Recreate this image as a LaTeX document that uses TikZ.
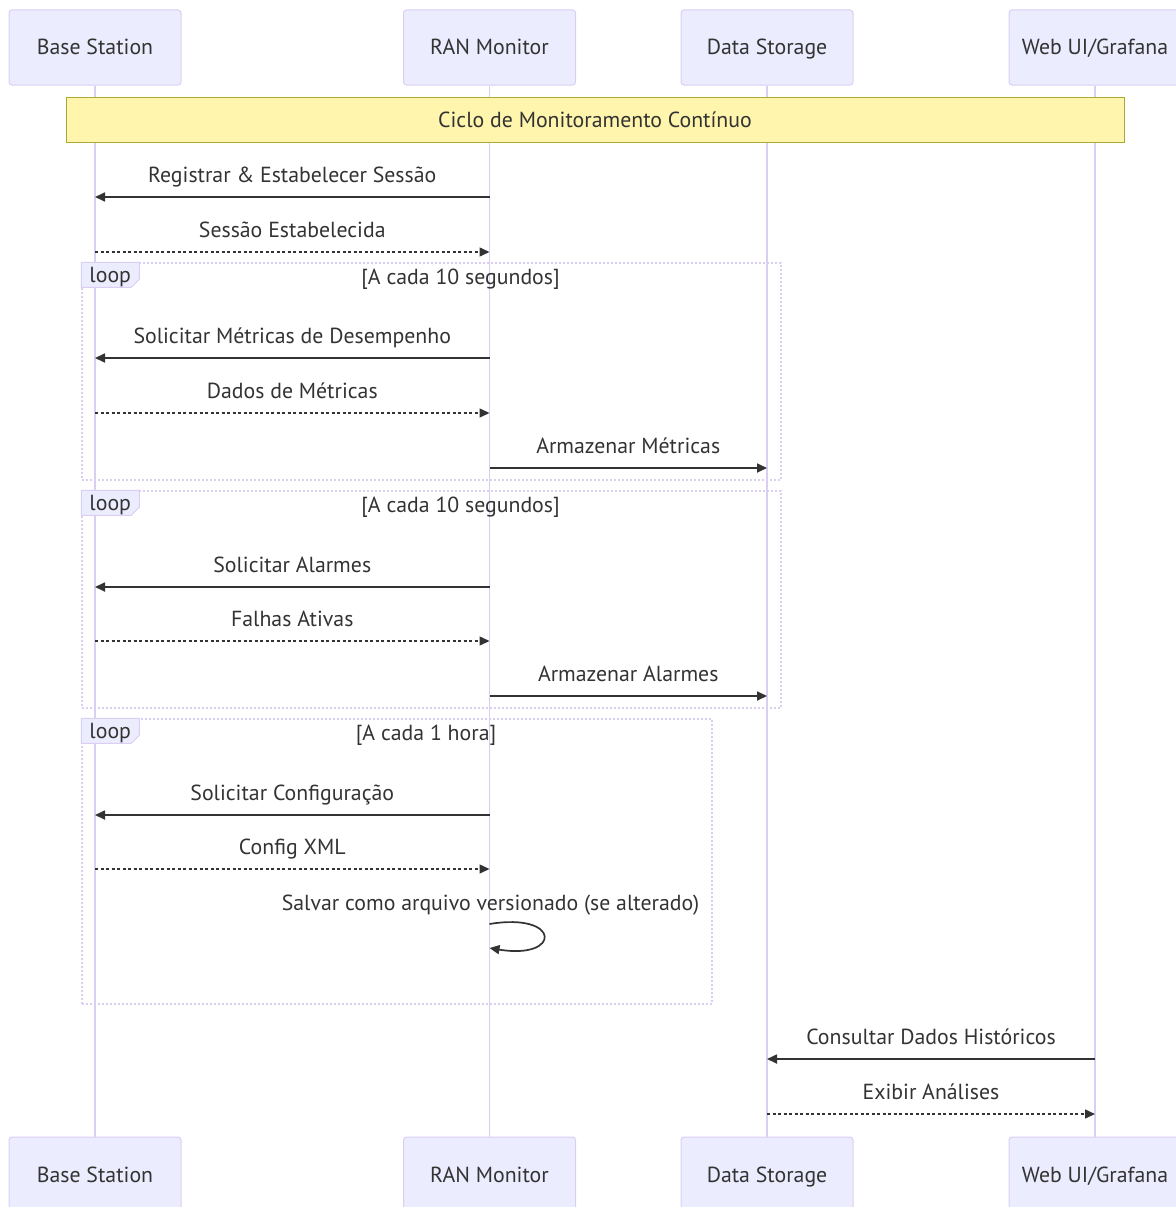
\documentclass[tikz,border=0pt]{standalone}
\usepackage{fontspec}
\setmainfont{PT Sans}
\usetikzlibrary{arrows.meta,calc}
\definecolor{actfill}{HTML}{ECECFF}
\definecolor{actline}{HTML}{DACEF3}
\definecolor{notefill}{HTML}{FFF5AD}
\definecolor{noteline}{HTML}{AAAA33}
\definecolor{ink}{HTML}{333333}
\newcommand\seqmsg[6]{%
  \coordinate (#1s) at (#3 |- 0,#2);
  \coordinate (#1e) at (#4 |- 0,#2);
  \draw[#5] (#1s) -- (#1e);
  \node[msglabel] (#1l) at ($(#1s)!0.5!(#1e)+(0,-22)$) {#6};
}
\begin{document}
\begin{tikzpicture}[x=1pt,y=-1pt,
  font=\fontsize{21.8}{25}\selectfont,
  txt/.style={text height=1.5em, text depth=0em},
  actor/.style={txt, draw=actline, fill=actfill, rounded corners=3pt, minimum width=172pt, minimum height=75pt, text=ink, inner sep=0pt, line width=1pt},
  lifeline/.style={draw=actline, line width=1.2pt},
  solidmsg/.style={draw=ink, line width=1.7pt, -{Triangle[length=10pt,width=9pt]}},
  dotmsg/.style={solidmsg, line width=1.5pt, dash pattern=on 3pt off 2.5pt},
  msglabel/.style={txt, text=ink, inner sep=0pt},
  loopbox/.style={draw=actline, dash pattern=on 2pt off 2pt, line width=1.5pt, inner sep=0pt},
  looptab/.style={draw=actline, fill=actfill, line width=1pt},
  notebox/.style={txt, draw=noteline, fill=notefill, line width=1pt, minimum width=1058pt, minimum height=45pt, text=ink, inner sep=0pt}
]
\useasboundingbox (0,0) rectangle (1175,1207);
% participants
\node[actor] (bsT) at (95,47.5) {Base Station};
\node[actor] (ranT) at (489.5,47.5) {RAN Monitor};
\node[actor] (dsT) at (767,47.5) {Data Storage};
\node[actor] (webT) at (1095,47.5) {Web UI/Grafana};
\node[actor] (bsB) at (95,1174.5) {Base Station};
\node[actor] (ranB) at (489.5,1174.5) {RAN Monitor};
\node[actor] (dsB) at (767,1174.5) {Data Storage};
\node[actor] (webB) at (1095,1174.5) {Web UI/Grafana};
% lifelines
\draw[lifeline] (bsT.south) -- (bsB.north);
\draw[lifeline] (ranT.south) -- (ranB.north);
\draw[lifeline] (dsT.south) -- (dsB.north);
\draw[lifeline] (webT.south) -- (webB.north);
% note
\node[notebox] (note) at (595,119.5) {Ciclo de Monitoramento Contínuo};
% loop frames
\node[loopbox, minimum width=699pt, minimum height=217pt] (loopA) at (431.5,371.5) {};
\node[loopbox, minimum width=699pt, minimum height=217pt] (loopB) at (431.5,599.5) {};
\node[loopbox, minimum width=630pt, minimum height=285pt] (loopC) at (397,861.5) {};
\foreach \L in {loopA,loopB,loopC}{
  \draw[looptab] (\L.north west) -- ++(58,0) -- ++(0,17) -- ++(-8,8) -- ++(-50,0) -- cycle;
  \node[msglabel] (\L-kw) at ($(\L.north west)+(29,13)$) {loop};
}
\node[msglabel] (loopA-t) at (460.5,277) {[A cada 10 segundos]};
\node[msglabel] (loopB-t) at (460.5,505) {[A cada 10 segundos]};
\node[msglabel] (loopC-t) at (426,733) {[A cada 1 hora]};
% messages
\seqmsg{m1}{197}{ranT}{bsT}{solidmsg}{Registrar \& Estabelecer Sessão}
\seqmsg{m2}{252}{bsT}{ranT}{dotmsg}{Sessão Estabelecida}
\seqmsg{m3}{358}{ranT}{bsT}{solidmsg}{Solicitar Métricas de Desempenho}
\seqmsg{m4}{413}{bsT}{ranT}{dotmsg}{Dados de Métricas}
\seqmsg{m5}{468}{ranT}{dsT}{solidmsg}{Armazenar Métricas}
\seqmsg{m6}{587}{ranT}{bsT}{solidmsg}{Solicitar Alarmes}
\seqmsg{m7}{641}{bsT}{ranT}{dotmsg}{Falhas Ativas}
\seqmsg{m8}{696}{ranT}{dsT}{solidmsg}{Armazenar Alarmes}
\seqmsg{m9}{815}{ranT}{bsT}{solidmsg}{Solicitar Configuração}
\seqmsg{m10}{869}{bsT}{ranT}{dotmsg}{Config XML}
% self message
\coordinate (m11s) at (ranT |- 0,924);
\coordinate (m11e) at (ranT |- 0,948);
\draw[solidmsg] (m11s) .. controls ($(m11s)+(72,-12)$) and ($(m11s)+(72,36)$) .. (m11e);
\node[msglabel] (m11l) at ($(m11s)+(1,-21)$) {Salvar como arquivo versionado (se alterado)};
\seqmsg{m12}{1059}{webT}{dsT}{solidmsg}{Consultar Dados Históricos}
\seqmsg{m13}{1114}{dsT}{webT}{dotmsg}{Exibir Análises}
\end{tikzpicture}
\end{document}
